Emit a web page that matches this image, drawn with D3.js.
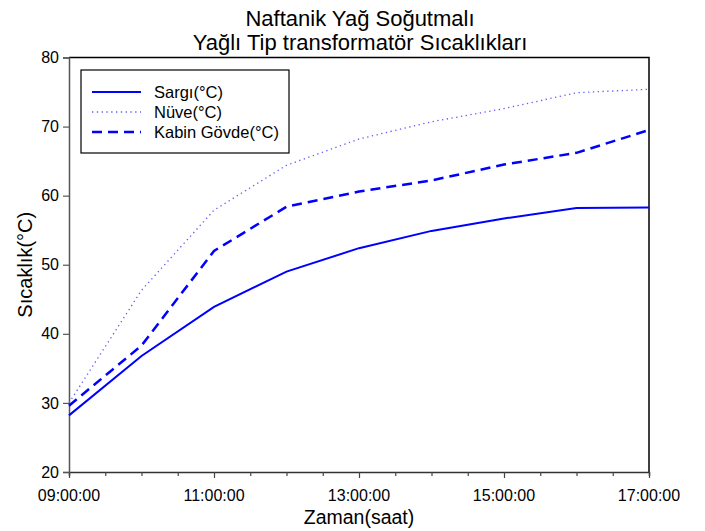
<!DOCTYPE html>
<html>
<head>
<meta charset="utf-8">
<script src="https://d3js.org/d3.v7.min.js"></script>
<style>
  body { margin: 0; background: #fff; }
  svg text { font-family: "Liberation Sans", Arial, sans-serif; fill: #000; }
</style>
</head>
<body>
<div id="chart"></div>
<script>
// saat (09:00 - 17:00)
const hours = [9, 10, 11, 12, 13, 14, 15, 16, 17];
const sargi = [28.2, 36.8, 43.9, 49.0, 52.4, 54.9, 56.7, 58.2, 58.3];
const nuve  = [30.0, 46.3, 57.9, 64.4, 68.2, 70.7, 72.6, 74.9, 75.4];
const kabin = [29.6, 38.3, 52.0, 58.4, 60.6, 62.2, 64.5, 66.2, 69.5];
const xTickLabels = ["09:00:00", "11:00:00", "13:00:00", "15:00:00", "17:00:00"];
const yTicks = [20, 30, 40, 50, 60, 70, 80];

const series = [
  {name: "Sargı(°C)", values: sargi, color: "#0000ff", width: 2, dash: null},
  {name: "Nüve(°C)", values: nuve, color: "#5a5aff", width: 1.3, dash: "1.3,3.5"},
  {name: "Kabin Gövde(°C)", values: kabin, color: "#0000ff", width: 2.5, dash: "10,6"}
];

const W = 705, H = 531;
const m = {left: 69, right: 56, top: 57.5, bottom: 59};
const svg = d3.select("#chart").append("svg").attr("width", W).attr("height", H);

const x = d3.scaleLinear().domain([9, 17]).range([m.left, W - m.right]);
const y = d3.scaleLinear().domain([20, 80]).range([H - m.bottom, m.top]);

// frame (top + right)
svg.append("path")
  .attr("d", `M${x(9)},${y(80)}H${x(17)}V${y(20)}`)
  .attr("fill", "none").attr("stroke", "#000").attr("stroke-width", 1.5);

// x axis: minor ticks every half hour, labels every 2 hours
const gx = svg.append("g").attr("transform", `translate(0,${y(20)})`);
gx.call(d3.axisBottom(x).tickValues(d3.range(9, 17.01, 0.5)).tickSize(4).tickFormat(""));
gx.call(g => g.selectAll(".tick line").attr("stroke", "#444").attr("stroke-width", 1.2));
gx.selectAll(".tick").filter(d => d % 2 === 1).select("line").attr("y2", 6);
gx.select(".domain").attr("stroke", "#333").attr("stroke-width", 1.5);
gx.selectAll("text.lbl")
  .data(xTickLabels)
  .join("text")
  .attr("class", "lbl")
  .attr("x", (d, i) => x(9 + i * 2))
  .attr("y", 29)
  .attr("text-anchor", "middle")
  .style("font-size", "16px")
  .text(d => d);

// y axis
const gy = svg.append("g").attr("transform", `translate(${x(9)},0)`);
gy.call(d3.axisLeft(y).tickValues(yTicks).tickSize(6).tickPadding(4));
gy.select(".domain").attr("stroke", "#555").attr("stroke-width", 1.5);
gy.selectAll(".tick line").attr("stroke", "#555").attr("stroke-width", 1.2);
gy.selectAll(".tick text").style("font-size", "16px").attr("fill", "#000");

// lines
const line = d3.line().x((d, i) => x(hours[i])).y(d => y(d));
series.forEach(s => {
  svg.append("path")
    .datum(s.values)
    .attr("d", line)
    .attr("fill", "none")
    .attr("stroke", s.color)
    .attr("stroke-width", s.width)
    .attr("stroke-dasharray", s.dash);
});

// titles
svg.append("text").attr("x", 360).attr("y", 26).attr("text-anchor", "middle")
  .style("font-size", "22px").text("Naftanik Yağ Soğutmalı");
svg.append("text").attr("x", 360).attr("y", 50).attr("text-anchor", "middle")
  .style("font-size", "22px").text("Yağlı Tip transformatör Sıcaklıkları");
svg.append("text").attr("x", x(13)).attr("y", 524).attr("text-anchor", "middle")
  .style("font-size", "19.5px").text("Zaman(saat)");
svg.append("text").attr("transform", `translate(32,${(y(20) + y(80)) / 2}) rotate(-90)`)
  .attr("text-anchor", "middle").style("font-size", "20px").text("Sıcaklık(°C)");

// legend
const lg = svg.append("g").attr("transform", "translate(81,70)");
lg.append("rect").attr("width", 208).attr("height", 83)
  .attr("fill", "#fff").attr("stroke", "#000").attr("stroke-width", 1.2);
series.forEach((s, i) => {
  const yy = 22 + i * 20;
  lg.append("line").attr("x1", 11).attr("x2", 60).attr("y1", yy).attr("y2", yy)
    .attr("stroke", s.color).attr("stroke-width", s.width).attr("stroke-dasharray", s.dash);
  lg.append("text").attr("x", 73).attr("y", yy + 6).style("font-size", "16.5px").text(s.name);
});
</script>
</body>
</html>
